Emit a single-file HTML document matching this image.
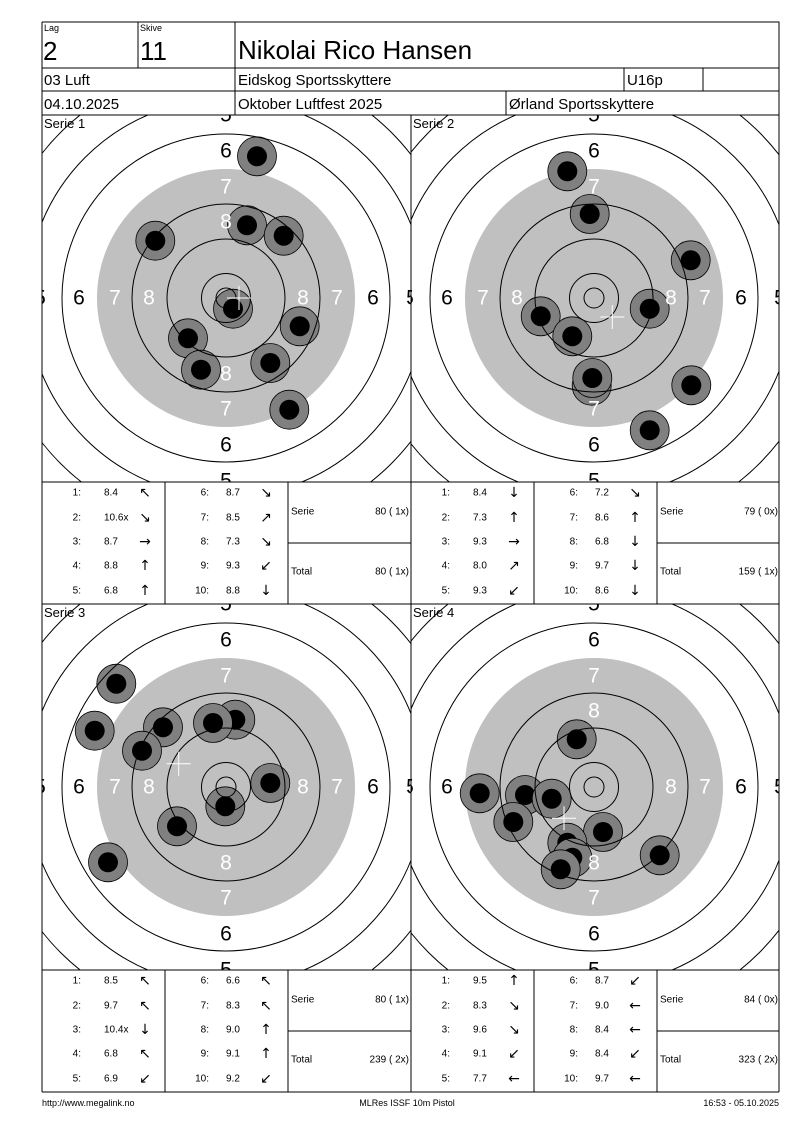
<!DOCTYPE html>
<html><head><meta charset="utf-8"><style>
html,body{margin:0;padding:0;background:#fff;}
svg{display:block;font-family:"Liberation Sans",sans-serif;}
</style></head><body>
<svg width="800" height="1130" viewBox="0 0 800 1130" xmlns="http://www.w3.org/2000/svg">
<defs>
<g id="s"><circle r="19.5" fill="#808080" stroke="#000" stroke-width="0.8"/><circle r="10" fill="#000"/></g>
<g id="rg" fill="none" stroke="#000" stroke-width="1">
<circle r="10"/><circle r="24.5"/><circle r="59"/><circle r="94"/><circle r="164"/><circle r="199"/><circle r="234"/><circle r="269"/>
</g>
</defs>
<rect width="800" height="1130" fill="#fff"/>

<!-- Panel 1 -->
<svg x="42" y="115" width="369" height="367" overflow="hidden">
<g transform="translate(184,183)">
<circle r="129" fill="#c0c0c0"/>
<use href="#s" x="31" y="-141.7"/><use href="#s" x="-70.7" y="-57.3"/><use href="#s" x="21" y="-72.7"/><use href="#s" x="57.7" y="-62.3"/><use href="#s" x="7" y="10.7"/><use href="#s" x="73.7" y="28.3"/><use href="#s" x="-38" y="40.3"/><use href="#s" x="-25" y="71.7"/><use href="#s" x="44.3" y="65"/><use href="#s" x="63.3" y="111.7"/>
<use href="#rg"/>
<g font-size="21" text-anchor="middle" dominant-baseline="central">
<text x="0" y="-183">5</text><text x="0" y="183">5</text><text x="-186" y="0">5</text><text x="186" y="0">5</text>
<text x="0" y="-147">6</text><text x="0" y="147">6</text><text x="-147" y="0">6</text><text x="147" y="0">6</text>
<g fill="#fff"><text x="0" y="-111">7</text><text x="0" y="111">7</text><text x="-111" y="0">7</text><text x="111" y="0">7</text>
<text x="0" y="-76">8</text><text x="0" y="76">8</text><text x="-77" y="0">8</text><text x="77" y="0">8</text></g>
</g>
<path d="M1 0h24M13 -12v24" stroke="#fff" stroke-width="1"/>
</g>
<text x="2" y="13" font-size="13">Serie 1</text>
</svg>

<!-- Panel 2 -->
<svg x="411" y="115" width="368" height="367" overflow="hidden">
<g transform="translate(183,183)">
<circle r="129" fill="#c0c0c0"/>
<use href="#s" x="-26.7" y="-126.7"/><use href="#s" x="-4.3" y="-84"/><use href="#s" x="96.7" y="-37.7"/><use href="#s" x="55.7" y="10.7"/><use href="#s" x="-53.3" y="18.3"/><use href="#s" x="-21.7" y="38.3"/><use href="#s" x="-2.3" y="87.7"/><use href="#s" x="-1.7" y="80"/><use href="#s" x="97.3" y="87.3"/><use href="#s" x="55.7" y="132.3"/>
<use href="#rg"/>
<g font-size="21" text-anchor="middle" dominant-baseline="central">
<text x="0" y="-183">5</text><text x="0" y="183">5</text><text x="-186" y="0">5</text><text x="186" y="0">5</text>
<text x="0" y="-147">6</text><text x="0" y="147">6</text><text x="-147" y="0">6</text><text x="147" y="0">6</text>
<g fill="#fff"><text x="0" y="-111">7</text><text x="0" y="111">7</text><text x="-111" y="0">7</text><text x="111" y="0">7</text>
<text x="-77" y="0">8</text><text x="77" y="0">8</text></g>
</g>
<path d="M6.3 19h24M18.3 7v24" stroke="#fff" stroke-width="1"/>
</g>
<text x="2" y="13" font-size="13">Serie 2</text>
</svg>

<!-- Panel 3 -->
<svg x="42" y="604" width="369" height="366" overflow="hidden">
<g transform="translate(184,183)">
<circle r="129" fill="#c0c0c0"/>
<use href="#s" x="-109.7" y="-103.3"/><use href="#s" x="-131.3" y="-56.3"/><use href="#s" x="-63" y="-59.7"/><use href="#s" x="-84" y="-36.3"/><use href="#s" x="9.3" y="-67.3"/><use href="#s" x="-13" y="-64"/><use href="#s" x="44.3" y="-4"/><use href="#s" x="-0.7" y="19.3"/><use href="#s" x="-49" y="39.3"/><use href="#s" x="-118" y="75.3"/>
<use href="#rg"/>
<g font-size="21" text-anchor="middle" dominant-baseline="central">
<text x="0" y="-183">5</text><text x="0" y="183">5</text><text x="-186" y="0">5</text><text x="186" y="0">5</text>
<text x="0" y="-147">6</text><text x="0" y="147">6</text><text x="-147" y="0">6</text><text x="147" y="0">6</text>
<g fill="#fff"><text x="0" y="-111">7</text><text x="0" y="111">7</text><text x="-111" y="0">7</text><text x="111" y="0">7</text>
<text x="0" y="76">8</text><text x="-77" y="0">8</text><text x="77" y="0">8</text></g>
</g>
<path d="M-59.3 -23.3h24M-47.3 -35.3v24" stroke="#fff" stroke-width="1"/>
</g>
<text x="2" y="13" font-size="13">Serie 3</text>
</svg>

<!-- Panel 4 -->
<svg x="411" y="604" width="368" height="366" overflow="hidden">
<g transform="translate(183,183)">
<circle r="129" fill="#c0c0c0"/>
<use href="#s" x="-17.3" y="-47.7"/><use href="#s" x="-114.3" y="6.3"/><use href="#s" x="-69" y="8"/><use href="#s" x="-42.3" y="11.7"/><use href="#s" x="-80.7" y="35"/><use href="#s" x="9" y="45"/><use href="#s" x="-26.7" y="55.7"/><use href="#s" x="-21.7" y="70.7"/><use href="#s" x="-33.3" y="82.3"/><use href="#s" x="65.7" y="68.3"/>
<use href="#rg"/>
<g font-size="21" text-anchor="middle" dominant-baseline="central">
<text x="0" y="-183">5</text><text x="0" y="183">5</text><text x="-186" y="0">5</text><text x="186" y="0">5</text>
<text x="0" y="-147">6</text><text x="0" y="147">6</text><text x="-147" y="0">6</text><text x="147" y="0">6</text>
<g fill="#fff"><text x="0" y="-111">7</text><text x="0" y="111">7</text><text x="111" y="0">7</text>
<text x="0" y="-76">8</text><text x="0" y="76">8</text><text x="77" y="0">8</text></g>
</g>
<path d="M-42 31.3h24M-30 19.3v24" stroke="#fff" stroke-width="1"/>
</g>
<text x="2" y="13" font-size="13">Serie 4</text>
</svg>

<!-- grid lines -->
<g stroke="#000" stroke-width="1" fill="none" shape-rendering="crispEdges">
<path d="M42 22H779V1092M42 22V1092"/>
<path d="M138 22V68M235 22V115M42 68H779M42 91H779M42 115H779M624 68V91M703 68V91M506 91V115"/>
<path d="M411 115V1092M42 482H779M42 604H779M42 970H779M42 1092H779"/>
<path d="M165 482V604M288 482V604M534 482V604M657 482V604M288 543H411M657 543H779"/>
<path d="M165 970V1092M288 970V1092M534 970V1092M657 970V1092M288 1031H411M657 1031H779"/>
</g>

<!-- header text -->
<g fill="#000">
<text x="44" y="31" font-size="9">Lag</text>
<text x="43" y="60" font-size="26">2</text>
<text x="140" y="31" font-size="9">Skive</text>
<text x="140" y="60" font-size="26">11</text>
<text x="238" y="59" font-size="26">Nikolai Rico Hansen</text>
<text x="44" y="85" font-size="15">03 Luft</text>
<text x="238" y="85" font-size="15">Eidskog Sportsskyttere</text>
<text x="627" y="85" font-size="15">U16p</text>
<text x="44" y="109" font-size="15">04.10.2025</text>
<text x="238" y="109" font-size="15">Oktober Luftfest 2025</text>
<text x="509" y="109" font-size="15">Ørland Sportsskyttere</text>
</g>

<!-- tables -->
<g font-size="10" dominant-baseline="central">
<!-- P1 -->
<g transform="translate(0,0)">
<g text-anchor="end"><text x="81" y="493">1:</text><text x="81" y="518">2:</text><text x="81" y="542">3:</text><text x="81" y="566">4:</text><text x="81" y="591">5:</text>
<text x="209" y="493">6:</text><text x="209" y="518">7:</text><text x="209" y="542">8:</text><text x="209" y="566">9:</text><text x="209" y="591">10:</text>
<text x="409" y="512">80 ( 1x)</text><text x="409" y="572">80 ( 1x)</text></g>
<text x="104" y="493">8.4</text><text x="104" y="518">10.6x</text><text x="104" y="542">8.7</text><text x="104" y="566">8.8</text><text x="104" y="591">6.8</text>
<text x="226" y="493">8.7</text><text x="226" y="518">8.5</text><text x="226" y="542">7.3</text><text x="226" y="566">9.3</text><text x="226" y="591">8.8</text>
<text x="291" y="512">Serie</text><text x="291" y="572">Total</text>
<g font-size="14" text-anchor="middle" font-family="DejaVu Sans"><text x="145" y="493">↖</text><text x="145" y="518">↘</text><text x="145" y="542">→</text><text x="145" y="566">↑</text><text x="145" y="591">↑</text>
<text x="266" y="493">↘</text><text x="266" y="518">↗</text><text x="266" y="542">↘</text><text x="266" y="566">↙</text><text x="266" y="591">↓</text></g>
</g>
<!-- P2 -->
<g transform="translate(369,0)">
<g text-anchor="end"><text x="81" y="493">1:</text><text x="81" y="518">2:</text><text x="81" y="542">3:</text><text x="81" y="566">4:</text><text x="81" y="591">5:</text>
<text x="209" y="493">6:</text><text x="209" y="518">7:</text><text x="209" y="542">8:</text><text x="209" y="566">9:</text><text x="209" y="591">10:</text>
<text x="409" y="512">79 ( 0x)</text><text x="409" y="572">159 ( 1x)</text></g>
<text x="104" y="493">8.4</text><text x="104" y="518">7.3</text><text x="104" y="542">9.3</text><text x="104" y="566">8.0</text><text x="104" y="591">9.3</text>
<text x="226" y="493">7.2</text><text x="226" y="518">8.6</text><text x="226" y="542">6.8</text><text x="226" y="566">9.7</text><text x="226" y="591">8.6</text>
<text x="291" y="512">Serie</text><text x="291" y="572">Total</text>
<g font-size="14" text-anchor="middle" font-family="DejaVu Sans"><text x="145" y="493">↓</text><text x="145" y="518">↑</text><text x="145" y="542">→</text><text x="145" y="566">↗</text><text x="145" y="591">↙</text>
<text x="266" y="493">↘</text><text x="266" y="518">↑</text><text x="266" y="542">↓</text><text x="266" y="566">↓</text><text x="266" y="591">↓</text></g>
</g>
<!-- P3 -->
<g transform="translate(0,488)">
<g text-anchor="end"><text x="81" y="493">1:</text><text x="81" y="518">2:</text><text x="81" y="542">3:</text><text x="81" y="566">4:</text><text x="81" y="591">5:</text>
<text x="209" y="493">6:</text><text x="209" y="518">7:</text><text x="209" y="542">8:</text><text x="209" y="566">9:</text><text x="209" y="591">10:</text>
<text x="409" y="512">80 ( 1x)</text><text x="409" y="572">239 ( 2x)</text></g>
<text x="104" y="493">8.5</text><text x="104" y="518">9.7</text><text x="104" y="542">10.4x</text><text x="104" y="566">6.8</text><text x="104" y="591">6.9</text>
<text x="226" y="493">6.6</text><text x="226" y="518">8.3</text><text x="226" y="542">9.0</text><text x="226" y="566">9.1</text><text x="226" y="591">9.2</text>
<text x="291" y="512">Serie</text><text x="291" y="572">Total</text>
<g font-size="14" text-anchor="middle" font-family="DejaVu Sans"><text x="145" y="493">↖</text><text x="145" y="518">↖</text><text x="145" y="542">↓</text><text x="145" y="566">↖</text><text x="145" y="591">↙</text>
<text x="266" y="493">↖</text><text x="266" y="518">↖</text><text x="266" y="542">↑</text><text x="266" y="566">↑</text><text x="266" y="591">↙</text></g>
</g>
<!-- P4 -->
<g transform="translate(369,488)">
<g text-anchor="end"><text x="81" y="493">1:</text><text x="81" y="518">2:</text><text x="81" y="542">3:</text><text x="81" y="566">4:</text><text x="81" y="591">5:</text>
<text x="209" y="493">6:</text><text x="209" y="518">7:</text><text x="209" y="542">8:</text><text x="209" y="566">9:</text><text x="209" y="591">10:</text>
<text x="409" y="512">84 ( 0x)</text><text x="409" y="572">323 ( 2x)</text></g>
<text x="104" y="493">9.5</text><text x="104" y="518">8.3</text><text x="104" y="542">9.6</text><text x="104" y="566">9.1</text><text x="104" y="591">7.7</text>
<text x="226" y="493">8.7</text><text x="226" y="518">9.0</text><text x="226" y="542">8.4</text><text x="226" y="566">8.4</text><text x="226" y="591">9.7</text>
<text x="291" y="512">Serie</text><text x="291" y="572">Total</text>
<g font-size="14" text-anchor="middle" font-family="DejaVu Sans"><text x="145" y="493">↑</text><text x="145" y="518">↘</text><text x="145" y="542">↘</text><text x="145" y="566">↙</text><text x="145" y="591">←</text>
<text x="266" y="493">↙</text><text x="266" y="518">←</text><text x="266" y="542">←</text><text x="266" y="566">↙</text><text x="266" y="591">←</text></g>
</g>
</g>

<!-- footer -->
<g font-size="9">
<text x="42" y="1106">http://www.megalink.no</text>
<text x="407" y="1106" text-anchor="middle">MLRes ISSF 10m Pistol</text>
<text x="779" y="1106" text-anchor="end">16:53 - 05.10.2025</text>
</g>
</svg>
</body></html>
